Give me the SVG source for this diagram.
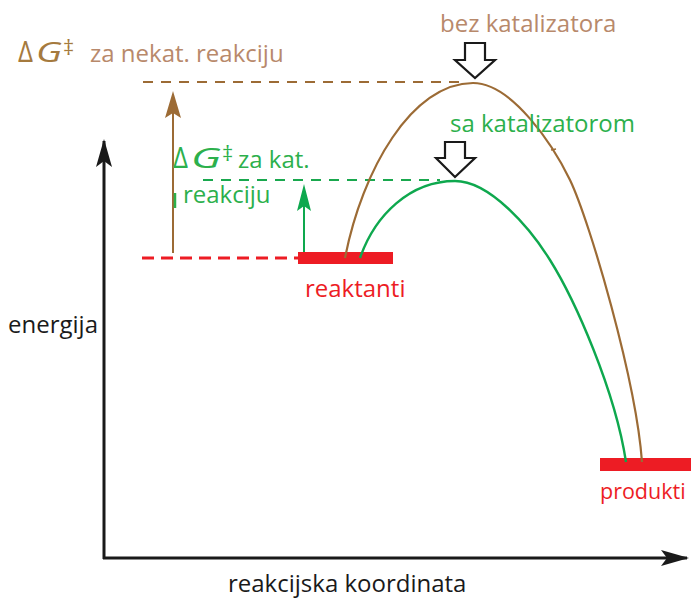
<svg xmlns="http://www.w3.org/2000/svg" width="691" height="598" viewBox="0 0 691 598">
<style>
text{font-family:"Open Sans","Liberation Sans",sans-serif;font-size:24px}
.lbl{fill:#1a1a1a}
.red{fill:#ed1c24}
.small{font-size:21.5px}
.lbrown{fill:#b8896b}
.dbrown{fill:#a57a3e}
.grn{fill:#2cb04c}
.dg{font-size:28px;font-style:italic}
.dl{font-size:30px}
.dag{font-size:22px}
.axis{stroke:#1a1a1a;stroke-width:3;fill:none}
.cb{stroke:#9c6b35;stroke-width:2.2;fill:none}
.cg{stroke:#0ea84e;stroke-width:2.4;fill:none}
.dashb{stroke:#9c6b35;stroke-width:2;stroke-dasharray:10 8;fill:none}
.dashg{stroke:#19a84e;stroke-width:2;stroke-dasharray:10 8;fill:none}
.dashr{stroke:#ed1c24;stroke-width:3;stroke-dasharray:12 7;fill:none}
.hollow{fill:#fff;stroke:#1a1a1a;stroke-width:2.2;stroke-linejoin:miter}
</style>
<defs>
<marker id="arrBlack" markerUnits="userSpaceOnUse" markerWidth="30" markerHeight="18" refX="26" refY="8" orient="auto">
<path d="M0,0 L28,8 L0,16 L6,8 Z" fill="#1a1a1a"/>
</marker>
<marker id="arrBrown" markerUnits="userSpaceOnUse" markerWidth="30" markerHeight="18" refX="22" refY="8" orient="auto">
<path d="M0,0 L27,8 L0,16 L5,8 Z" fill="#9c6b35"/>
</marker>
<marker id="arrGreen" markerUnits="userSpaceOnUse" markerWidth="30" markerHeight="18" refX="22" refY="7" orient="auto">
<path d="M0,0 L27,7 L0,14 L5,7 Z" fill="#0ea84e"/>
</marker>
</defs>
<rect width="691" height="598" fill="#fff"/>

<g id="axes">
<line class="axis" x1="104" y1="559" x2="104" y2="141" marker-end="url(#arrBlack)"/>
<line class="axis" x1="103" y1="558" x2="687" y2="558" marker-end="url(#arrBlack)"/>
<text class="lbl" x="8" y="333">energija</text>
<text class="lbl" x="228" y="592">reakcijska koordinata</text>
</g>

<g id="reaktanti">
<rect x="298" y="252" width="95" height="12" fill="#ed1c24"/>
<text class="red" x="305" y="297">reaktanti</text>
</g>

<g id="produkti">
<rect x="600" y="458" width="91" height="13" fill="#ed1c24"/>
<text class="red small" x="600" y="499">produkti</text>
</g>

<g id="connectors">
<line class="dashb" x1="143" y1="82" x2="466" y2="82"/>
<line class="dashg" x1="203" y1="180" x2="440" y2="180"/>
<line class="dashr" x1="142" y1="258" x2="298" y2="258"/>
<path class="cb" d="M345,258 C362,170 412,83 473,83 C512,83 553,145 570,180 C590,222 636,380 642,462"/>
<path class="cg" d="M360,258 C375,215 410,181 455,181 C490,181 530,228 550,260 C575,300 615,390 626,462"/>
<line stroke="#9c6b35" stroke-width="2" x1="173" y1="253" x2="173" y2="96" marker-end="url(#arrBrown)"/>
<line stroke="#0ea84e" stroke-width="2" x1="304" y1="252" x2="304" y2="189" marker-end="url(#arrGreen)"/>
<line stroke="#2cb04c" stroke-width="2.5" x1="175" y1="193" x2="175" y2="208"/>
<line stroke="#9c6b35" stroke-width="1.5" x1="551" y1="150" x2="556" y2="149"/>
</g>

<g id="bez-katalizatora">
<text class="lbrown" x="440" y="32">bez katalizatora</text>
<path class="hollow" d="M465,43 L485,43 L485,60 L495,60 L475,78 L455,60 L465,60 Z"/>
</g>

<g id="sa-katalizatorom">
<text class="grn" x="450" y="132">sa katalizatorom</text>
<path class="hollow" d="M445,142 L465,142 L465,158 L475,158 L455,177 L436,158 L445,158 Z"/>
</g>

<g id="dg-nekat">
<text class="dbrown dl" x="18" y="62" textLength="15" lengthAdjust="spacingAndGlyphs">Δ</text>
<text class="dbrown dg" x="36" y="62" textLength="26" lengthAdjust="spacingAndGlyphs">G</text>
<text class="dbrown dag" x="63" y="55">‡</text>
<text class="lbrown" x="90" y="62">za nekat. reakciju</text>
</g>

<g id="dg-kat">
<text class="grn dl" x="173" y="168" textLength="15" lengthAdjust="spacingAndGlyphs">Δ</text>
<text class="grn dg" x="191" y="168" textLength="30" lengthAdjust="spacingAndGlyphs">G</text>
<text class="grn dag" x="222" y="161">‡</text>
<text class="grn" x="238" y="168">za kat.</text>
<text class="grn" x="183" y="203">reakciju</text>
</g>
</svg>
